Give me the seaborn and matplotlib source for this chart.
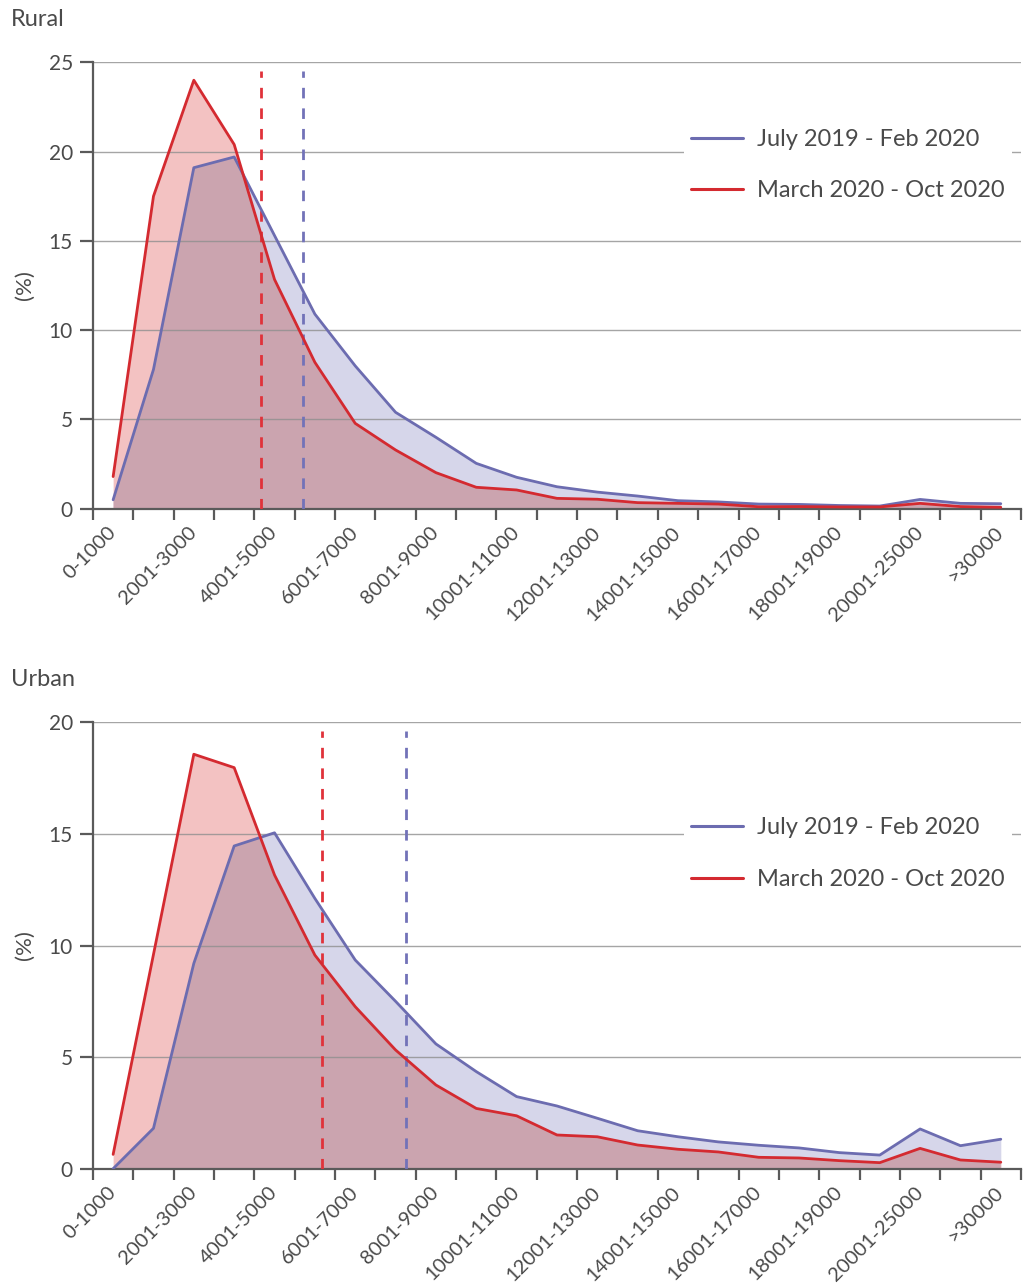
import numpy as np
import pandas as pd
import seaborn as sns
import matplotlib.pyplot as plt
from matplotlib.lines import Line2D

sns.set_style("white")
plt.rcParams["font.family"] = ["Lato", "DejaVu Sans"]

bands = ["0-1000", "1001-2000", "2001-3000", "3001-4000", "4001-5000", "5001-6000",
         "6001-7000", "7001-8000", "8001-9000", "9001-10000", "10001-11000",
         "11001-12000", "12001-13000", "13001-14000", "14001-15000", "15001-16000",
         "16001-17000", "17001-18000", "18001-19000", "19001-20000", "20001-25000",
         "25001-30000", ">30000"]

periods = ["July 2019 - Feb 2020", "March 2020 - Oct 2020"]

rural_before = [0.5, 7.8, 19.1, 19.7, 15.3, 10.9, 8.0, 5.4, 4.0, 2.54, 1.76, 1.23,
                0.93, 0.71, 0.45, 0.38, 0.26, 0.24, 0.18, 0.15, 0.52, 0.3, 0.28]
rural_after = [1.8, 17.5, 24.0, 20.4, 12.84, 8.2, 4.78, 3.29, 2.02, 1.2, 1.05, 0.58,
               0.53, 0.34, 0.3, 0.26, 0.11, 0.12, 0.1, 0.1, 0.3, 0.12, 0.08]

urban_before = [0.0, 1.81, 9.2, 14.46, 15.05, 12.11, 9.35, 7.5, 5.59, 4.35, 3.23, 2.81,
                2.26, 1.70, 1.43, 1.2, 1.05, 0.93, 0.72, 0.61, 1.78, 1.03, 1.32]
urban_after = [0.64, 9.6, 18.57, 17.97, 13.16, 9.57, 7.26, 5.32, 3.75, 2.7, 2.37, 1.51,
               1.43, 1.06, 0.87, 0.75, 0.51, 0.48, 0.36, 0.27, 0.91, 0.39, 0.29]

# dashed reference lines, in band-index units
rural_avg_before, rural_avg_after = 4.71, 3.67
urban_avg_before, urban_avg_after = 7.25, 5.17

BLUE = "#6c6cb0"
RED = "#d42a30"
LAVENDER = "#d6d6ea"
PINK = "#f3c2c2"
MAUVE = "#cba4af"
TXT = "#4a4a4a"
AXC = "#5a5a5a"


def draw_panel(ax, before, after, avg_before, avg_after, ymax, yticks, leg_y):
    x = np.arange(len(bands))
    ax.fill_between(x, before, color=LAVENDER, lw=0, zorder=1)
    pink = ax.fill_between(x, after, color=PINK, lw=0, zorder=1)
    # overlap: area under "before" clipped to the area under "after"
    overlap = ax.fill_between(x, before, color=MAUVE, lw=0, zorder=1)
    overlap.set_clip_path(pink.get_paths()[0], ax.transData)
    for yt in yticks[1:]:
        ax.axhline(yt, color="#8f8f8f", lw=1.0, alpha=0.8, zorder=2)

    df = pd.DataFrame({"band": np.r_[x, x],
                       "pct": np.r_[before, after],
                       "period": [periods[0]] * len(x) + [periods[1]] * len(x)})
    sns.lineplot(data=df, x="band", y="pct", hue="period", hue_order=periods,
                 palette=[BLUE, RED], lw=2.0, ax=ax, legend=False, zorder=4)

    ax.axvline(avg_after, ymin=0, ymax=0.98, color="#e0323a", lw=2.0,
               dashes=(3.8, 3.6), zorder=3)
    ax.axvline(avg_before, ymin=0, ymax=0.98, color="#7272b8", lw=2.0,
               dashes=(3.8, 3.6), zorder=3)

    ax.set_xlim(-0.5, len(bands) - 0.5)
    ax.set_ylim(0, ymax)
    ax.set_yticks(yticks)
    ax.set_yticklabels([str(v) for v in yticks], fontsize=15, color=TXT)
    ax.set_xticks(np.arange(-0.5, len(bands), 1))
    ax.set_xticklabels([])
    ax.set_xticks(x[::2], minor=True)
    ax.set_xticklabels(bands[::2], minor=True, rotation=45, ha="right",
                       va="center", rotation_mode="anchor", fontsize=14.5, color=TXT)
    ax.tick_params(axis="x", which="major", direction="out", length=8, width=1.6,
                   color=AXC, bottom=True)
    ax.tick_params(axis="x", which="minor", length=0, pad=15, bottom=True)
    ax.tick_params(axis="y", direction="out", length=9.5, width=1.6, color=AXC,
                   pad=5, left=True)
    ax.set_xlabel("")
    ax.set_ylabel("(%)", fontsize=16, color=TXT, labelpad=10)
    sns.despine(ax=ax)
    for s in ["left", "bottom"]:
        ax.spines[s].set_color(AXC)
        ax.spines[s].set_linewidth(1.6)

    handles = [Line2D([0], [0], color=BLUE, lw=2.2), Line2D([0], [0], color=RED, lw=2.2)]
    leg = ax.legend(handles, periods, loc="upper right", bbox_to_anchor=(0.99, leg_y),
                    frameon=True, fontsize=17, handlelength=2.2, handletextpad=0.6,
                    labelspacing=1.3, borderpad=0.3, borderaxespad=0)
    leg.get_frame().set_facecolor("white")
    leg.get_frame().set_edgecolor("none")
    leg.get_frame().set_alpha(1)
    leg.set_zorder(6)
    for t in leg.get_texts():
        t.set_color(TXT)


fig = plt.figure(figsize=(10.34, 12.83), dpi=100)
ax1 = fig.add_axes([0.0899, 0.6035, 0.8975, 0.3479])
ax2 = fig.add_axes([0.0899, 0.0891, 0.8975, 0.3479])

draw_panel(ax1, rural_before, rural_after, rural_avg_before, rural_avg_after,
           25, [0, 5, 10, 15, 20, 25], 0.867)
draw_panel(ax2, urban_before, urban_after, urban_avg_before, urban_avg_after,
           20, [0, 5, 10, 15, 20], 0.803)

fig.text(0.011, 1 - 20 / 1283, "Rural", fontsize=17, color=TXT, va="center", ha="left")
fig.text(0.011, 1 - 680 / 1283, "Urban", fontsize=17, color=TXT, va="center", ha="left")

fig.savefig("out.png", dpi=100)
